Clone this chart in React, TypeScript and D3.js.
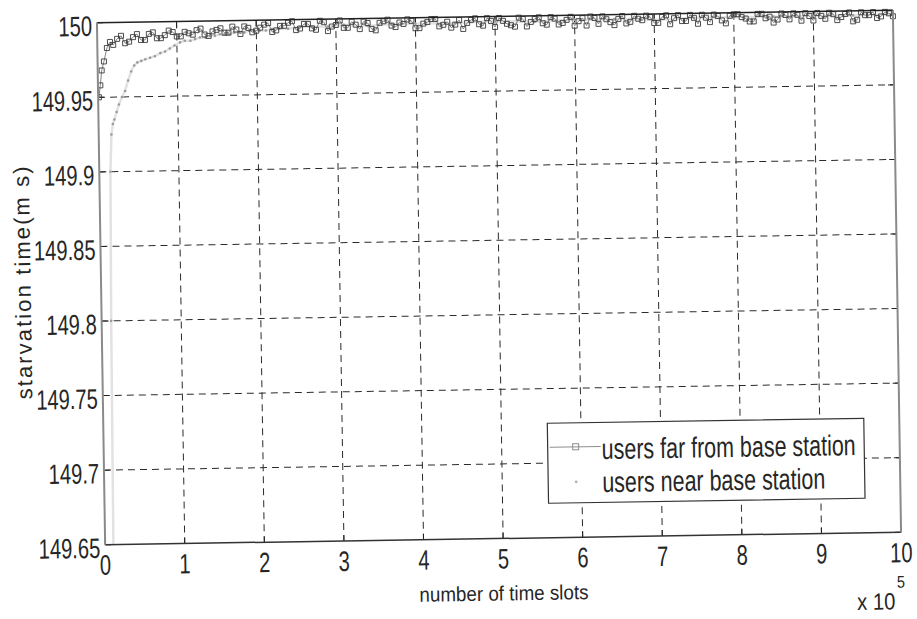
import React from "react";
import * as d3 from "d3";

// Axis ticks (x in units of 10^5 time slots)
const xTicks = [0, 1, 2, 3, 4, 5, 6, 7, 8, 9, 10];
const xTickLabels = ["0", "1", "2", "3", "4", "5", "6", "7", "8", "9", "10"];
const yTicks = [149.65, 149.7, 149.75, 149.8, 149.85, 149.9, 149.95, 150];
const yTickLabels = ["149.65", "149.7", "149.75", "149.8", "149.85", "149.9", "149.95", "150"];

// Users far from base station: start-up transient
const farEarlyX = [0.01, 0.03, 0.05, 0.08, 0.12, 0.16];
const farEarlyY = [149.95, 149.958, 149.968, 149.974, 149.983, 149.987];
// Users far from base station: samples at 0.2, 0.3, ... 10.0 (x 10^5 slots)
const farStartX = 0.2;
const farStepX = 0.1;
const farY = [
  149.985, 149.991, 149.987, 149.992, 149.988, 149.993, 149.989, 149.994, 149.99, 149.993,
  149.991, 149.995, 149.99, 149.994, 149.992, 149.996, 149.991, 149.995, 149.993,
  149.997, 149.992, 149.996, 149.998, 149.993, 149.997, 149.994, 149.999, 149.992, 149.996,
  149.994, 149.998, 149.993, 149.997, 149.992, 149.998, 149.995, 149.997, 149.999, 149.993,
  149.996, 149.999, 149.994, 149.997, 149.995, 149.992, 149.998, 149.995, 149.999, 149.993,
  149.997, 149.994, 149.999, 149.993, 149.998, 149.995, 149.999, 149.994, 149.997, 149.993,
  149.998, 149.999, 149.994, 149.997, 149.993, 149.999, 149.995, 149.997, 149.999, 149.994,
  149.998, 149.993, 149.999, 149.995, 149.997, 149.999, 149.994, 149.998, 149.993, 149.999,
  149.997, 149.994, 149.999, 149.996, 149.993, 149.999, 149.995, 149.998, 149.999, 149.994,
  149.997, 149.999, 149.994, 149.998, 149.993, 149.999, 149.997, 149.995, 149.999, 149.996,
];
// Users far from base station: intermediate samples at 0.25, 0.35, ... 9.95
const farMidStartX = 0.25;
const farMidY = [
  149.989, 149.986, 149.99, 149.988, 149.992, 149.989, 149.991, 149.993, 149.99, 149.992,
  149.994, 149.991, 149.993, 149.995, 149.992, 149.994, 149.996, 149.992,
  149.995, 149.998, 149.993, 149.996, 149.999, 149.994, 149.997, 149.993, 149.998, 149.995,
  149.999, 149.994, 149.996, 149.998, 149.993, 149.997, 149.999, 149.994, 149.996, 149.998,
  149.993, 149.997, 149.999, 149.995, 149.993, 149.998, 149.996, 149.999, 149.994, 149.997,
  149.999, 149.995, 149.993, 149.998, 149.996, 149.999, 149.994, 149.998, 149.995, 149.999,
  149.996, 149.993, 149.998, 149.999, 149.995, 149.997, 149.994, 149.999, 149.996, 149.998,
  149.994, 149.999, 149.997, 149.995, 149.999, 149.993, 149.997, 149.999, 149.995, 149.998,
  149.999, 149.996, 149.994, 149.999, 149.997, 149.995, 149.998, 149.999, 149.994, 149.997,
  149.999, 149.995, 149.998, 149.996, 149.999, 149.994, 149.997, 149.999, 149.996, 149.998,
];

// Users near base station
const nearX = [
  0.1, 0.12, 0.14, 0.16, 0.18, 0.2, 0.23, 0.26, 0.3, 0.34, 0.38, 0.42, 0.46, 0.5, 0.55, 0.6,
  0.66, 0.72, 0.79, 0.85, 0.91, 0.97, 1.04, 1.1, 1.17, 1.23, 1.29, 1.36, 1.42, 1.48, 1.54,
  1.6, 1.66, 1.72, 1.79, 1.85, 1.91, 1.97, 2.04, 2.12, 2.2, 2.29, 2.4, 2.55, 2.7, 2.9, 3.1,
  3.4, 3.7, 4.0, 4.5, 5.0, 5.5, 6.0, 6.5, 7.0, 7.5, 8.0, 8.5, 9.0, 9.5, 10.0,
];
const nearY = [
  149.62, 149.8, 149.9, 149.925, 149.932, 149.935, 149.94, 149.945, 149.95, 149.954, 149.961,
  149.967, 149.971, 149.973, 149.974, 149.975, 149.976, 149.977, 149.979, 149.98, 149.982,
  149.984, 149.986, 149.987, 149.987, 149.988, 149.989, 149.989, 149.99, 149.99, 149.991,
  149.991, 149.991, 149.992, 149.992, 149.992, 149.993, 149.993, 149.993, 149.993, 149.994,
  149.994, 149.994, 149.995, 149.995, 149.995, 149.996, 149.995, 149.996, 149.996, 149.996,
  149.997, 149.996, 149.997, 149.997, 149.996, 149.997, 149.997, 149.997, 149.997, 149.997,
  149.997,
];

const legendLabels = ["users far from base station", "users near base station"];

// Layout
const W = 917;
const H = 619;
const plotLeft = 101;
const plotTop = 16.5;
const plotW = 796;
const plotH = 522;
const tilt = -0.9;
const cx = plotLeft + plotW / 2;
const cy = plotTop + plotH / 2;

const FONT = "'Liberation Sans', Arial, Helvetica, sans-serif";
const farColor = "#3c3c3c";
const nearColor = "#9a9a9a";

function NarrowText(props: {
  x: number;
  y: number;
  size: number;
  sx?: number;
  anchor?: string;
  fill?: string;
  children: React.ReactNode;
}) {
  const { x, y, size, sx = 0.72, anchor = "start", fill = "#262626", children } = props;
  return (
    <text
      transform={`translate(${x},${y}) scale(${sx},1)`}
      fontSize={size}
      fontFamily={FONT}
      textAnchor={anchor}
      fill={fill}
    >
      {children}
    </text>
  );
}

export default function App() {
  const x = d3.scaleLinear().domain([0, 10]).range([plotLeft, plotLeft + plotW]);
  const y = d3.scaleLinear().domain([149.65, 150]).range([plotTop + plotH, plotTop]);

  const farPts: [number, number][] = [
    ...farEarlyX.map((v, i) => [v, farEarlyY[i]] as [number, number]),
    ...farY.map((v, i) => [farStartX + i * farStepX, v] as [number, number]),
    ...farMidY.map((v, i) => [farMidStartX + i * farStepX, v] as [number, number]),
  ].sort((a, b) => a[0] - b[0]);
  const nearPts: [number, number][] = nearX.map((v, i) => [v, nearY[i]]);

  const line = d3
    .line<[number, number]>()
    .x((d) => x(d[0]))
    .y((d) => y(d[1]));

  const bottom = plotTop + plotH;
  const right = plotLeft + plotW;
  const sq = 5;

  // Legend geometry
  const lgX = 545;
  const lgY = 424;
  const lgW = 316.5;
  const lgH = 80;

  return (
    <svg
      width={W}
      height={H}
      style={{ position: "absolute", left: 0, top: 0, background: "#fff" }}
    >
      <defs>
        <clipPath id="plot-clip">
          <rect x={plotLeft} y={plotTop - 6} width={plotW + 4} height={plotH + 6} />
        </clipPath>
      </defs>
      <rect x={0} y={0} width={W} height={H} fill="#fff" />
      <g transform={`rotate(${tilt},${cx},${cy})`}>
        {/* grid */}
        <g stroke="#2a2a2a" strokeWidth={1} strokeDasharray="7,5" fill="none">
          {xTicks.slice(1, -1).map((t) => (
            <line key={"gx" + t} x1={x(t)} x2={x(t)} y1={plotTop} y2={bottom} />
          ))}
          {yTicks.slice(1, -1).map((t) => (
            <line key={"gy" + t} x1={plotLeft} x2={right} y1={y(t)} y2={y(t)} />
          ))}
        </g>

        {/* ticks */}
        <g stroke="#222" strokeWidth={1}>
          {xTicks.map((t) => (
            <g key={"tx" + t}>
              <line x1={x(t)} x2={x(t)} y1={bottom} y2={bottom - 6} />
              <line x1={x(t)} x2={x(t)} y1={plotTop} y2={plotTop + 6} />
            </g>
          ))}
          {yTicks.map((t) => (
            <g key={"ty" + t}>
              <line x1={plotLeft} x2={plotLeft + 6} y1={y(t)} y2={y(t)} />
              <line x1={right} x2={right - 6} y1={y(t)} y2={y(t)} />
            </g>
          ))}
        </g>

        {/* series */}
        <g clipPath="url(#plot-clip)">
          <path d={line(nearPts) || ""} fill="none" stroke="#e2e2e2" strokeWidth={2.5} />
          {nearPts.map((d, i) => (
            <circle key={"n" + i} cx={x(d[0])} cy={y(d[1])} r={1.3} fill={nearColor} />
          ))}
          <path d={line(farPts) || ""} fill="none" stroke="#777" strokeWidth={0.9} />
          {farPts.map((d, i) => (
            <rect
              key={"f" + i}
              x={x(d[0]) - sq / 2}
              y={y(d[1]) - sq / 2}
              width={sq}
              height={sq}
              fill="none"
              stroke={farColor}
              strokeWidth={0.9}
            />
          ))}
        </g>

        {/* axes box */}
        <line x1={plotLeft} x2={right} y1={plotTop} y2={plotTop} stroke="#222" strokeWidth={1.5} />
        <line x1={plotLeft} x2={right} y1={bottom} y2={bottom} stroke="#333" strokeWidth={1.5} />
        <line x1={plotLeft} x2={plotLeft} y1={plotTop} y2={bottom} stroke="#8a8a8a" strokeWidth={2} />
        <line x1={right} x2={right} y1={plotTop} y2={bottom} stroke="#8a8a8a" strokeWidth={2} />

        {/* tick labels */}
        {xTicks.map((t, i) => (
          <NarrowText key={"lx" + t} x={x(t)} y={bottom + 30} size={28} anchor="middle">
            {xTickLabels[i]}
          </NarrowText>
        ))}
        {yTicks.map((t, i) => (
          <NarrowText key={"ly" + t} x={plotLeft - 5} y={y(t) + 13} size={28} anchor="end">
            {yTickLabels[i]}
          </NarrowText>
        ))}

        {/* axis titles */}
        <text
          x={cx}
          y={bottom + 62}
          textAnchor="middle"
          fontSize={20.5}
          fontFamily={FONT}
          fill="#262626"
          textLength={169}
          lengthAdjust="spacingAndGlyphs"
        >
          number of time slots
        </text>
        <text
          transform={`translate(23,${cy - 2}) rotate(-90)`}
          textAnchor="middle"
          dominantBaseline="central"
          fontSize={22}
          fontFamily={FONT}
          fill="#262626"
          textLength={233}
          lengthAdjust="spacing"
        >
          starvation time(m s)
        </text>
        <NarrowText x={852} y={615.5} size={23.5} sx={0.86}>
          x 10
        </NarrowText>
        <NarrowText x={892} y={594} size={17} sx={0.85}>
          5
        </NarrowText>

        {/* legend */}
        <rect x={lgX} y={lgY} width={lgW} height={lgH} fill="#fff" stroke="#333" strokeWidth={1.2} />
        <line x1={lgX + 2} x2={lgX + 53} y1={lgY + 24} y2={lgY + 24} stroke="#8c8c8c" strokeWidth={1} />
        <rect
          x={lgX + 28 - 3}
          y={lgY + 24 - 3}
          width={6}
          height={6}
          fill="none"
          stroke="#8c8c8c"
          strokeWidth={1}
        />
        <NarrowText x={lgX + 54} y={lgY + 36.6} size={29} sx={0.74}>
          {legendLabels[0]}
        </NarrowText>
        <circle cx={lgX + 28} cy={lgY + 59} r={1.4} fill="#b0b0b0" />
        <NarrowText x={lgX + 54} y={lgY + 69.7} size={29} sx={0.74}>
          {legendLabels[1]}
        </NarrowText>
      </g>
    </svg>
  );
}
